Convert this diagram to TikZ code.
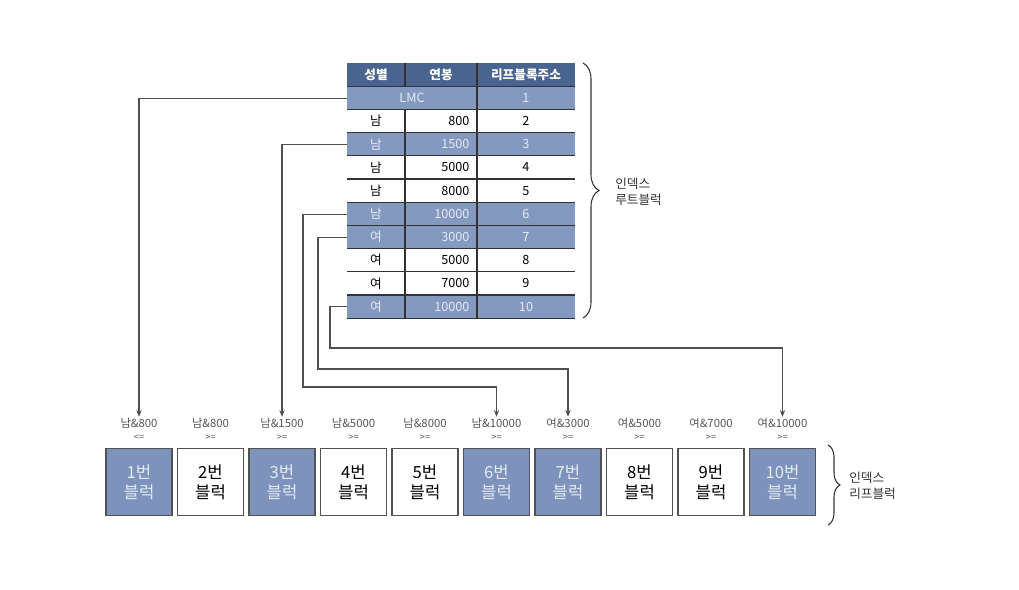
\documentclass[tikz,border=0pt]{standalone}
\usepackage{fontspec}
\setmainfont{Noto Sans CJK KR}
\usetikzlibrary{arrows.meta,decorations.pathreplacing}
\definecolor{hdr}{HTML}{4A6490}
\definecolor{hl}{HTML}{8499C0}
\definecolor{blk}{HTML}{7D93BB}
\definecolor{hltxt}{HTML}{E4EAF4}
\definecolor{ln}{HTML}{333333}
\definecolor{wire}{HTML}{505050}
\definecolor{lbl}{HTML}{555555}
\begin{document}
\begin{tikzpicture}[x=0.75pt,y=-0.75pt,
  rowbox/.style={draw=none, minimum width=171pt, minimum height=17.4pt, inner sep=0pt, anchor=north west},
  cell/.style={inner sep=1pt, font=\fontsize{9.5}{11}\selectfont},
  hcell/.style={inner sep=1pt, text=white, font=\fontsize{9.5}{11}\selectfont\bfseries},
  tline/.style={draw=ln, line width=0.8pt},
  wirestyle/.style={draw=wire, line width=0.8pt, -{Stealth[length=5pt,width=4pt]}},
  labtxt/.style={inner sep=1pt, text=lbl, font=\fontsize{8.5}{9}\selectfont},
  optxt/.style={inner sep=0pt, text=lbl, font=\fontsize{7}{8}\selectfont},
  blockbox/.style={draw=ln!85, line width=1pt, minimum width=49.5pt, minimum height=50pt, inner sep=0pt, align=center, font=\fontsize{12.5}{15}\selectfont},
  bracestyle/.style={draw=ln, line width=0.8pt, decorate},
  bracelab/.style={inner sep=0pt, anchor=west, align=left, text=ln, font=\fontsize{9.5}{12}\selectfont}
]
\useasboundingbox[fill=white] (0,0) rectangle (1019,589);

% table rows
\foreach \i/\f in {0/hdr,1/hl,2/white,3/hl,4/white,5/white,6/hl,7/hl,8/white,9/white,10/hl}{
  \node[rowbox, fill=\f] (row\i) at (347,{63+23.2*\i}) {};
}
% horizontal lines
\foreach \k in {1,...,11}{
  \draw[tline] (347,{63+23.2*\k}) -- (575,{63+23.2*\k});
}
% vertical lines
\draw[tline] (405,63) -- (405,86.2);
\draw[tline] (405,109.4) -- (405,318.2);
\draw[tline] (477,63) -- (477,318.2);

% header
\node[hcell] (h1) at (376,74.6) {성별};
\node[hcell] (h2) at (441,74.6) {연봉};
\node[hcell] (h3) at (526,74.6) {리프블록주소};
% LMC row
\node[cell, text=hltxt] (c1a) at (412,97.8) {LMC};
\node[cell, text=hltxt] (c1c) at (526,97.8) {1};
% data rows
\foreach \i/\g/\s/\a/\t in {2/남/800/2/black,3/남/1500/3/hltxt,4/남/5000/4/black,5/남/8000/5/black,6/남/10000/6/hltxt,7/여/3000/7/hltxt,8/여/5000/8/black,9/여/7000/9/black,10/여/10000/10/hltxt}{
  \node[cell, text=\t] (c\i a) at (376,{74.6+23.2*\i}) {\g};
  \node[cell, text=\t, anchor=east] (c\i b) at (471,{74.6+23.2*\i}) {\s};
  \node[cell, text=\t] (c\i c) at (526,{74.6+23.2*\i}) {\a};
}

% root brace
\draw[bracestyle, decoration={brace, amplitude=12pt}] (583,63) -- (583,318);
\node[bracelab] (rootlab) at (615,192) {인덱스\\루트블럭};

% leaf blocks
\foreach \i/\f/\t/\g/\o in {1/blk/hltxt/남\&800/<=,2/white/black/남\&800/>=,3/blk/hltxt/남\&1500/>=,4/white/black/남\&5000/>=,5/white/black/남\&8000/>=,6/blk/hltxt/남\&10000/>=,7/blk/hltxt/여\&3000/>=,8/white/black/여\&5000/>=,9/white/black/여\&7000/>=,10/blk/hltxt/여\&10000/>=}{
  \node[labtxt] (lab\i) at ({139+71.5*(\i-1)},423.5) {\g};
  \node[optxt] (op\i) at ({139+71.5*(\i-1)},438) {\o};
  \node[blockbox, fill=\f, text=\t] (blk\i) at ({139+71.5*(\i-1)},482) {{\i}번\\블럭};
}

% leaf brace
\draw[bracestyle, decoration={brace, amplitude=9pt}] (828,445) -- (828,525);
\node[bracelab] (leaflab) at (849,486) {인덱스\\리프블럭};

% connectors
\coordinate (b6) at (303,387);
\coordinate (b7) at (318,369);
\coordinate (b10) at (330,348);
\draw[wirestyle] (row1.west) -| (lab1.north);
\draw[wirestyle] (row3.west) -| (lab3.north);
\draw[wirestyle] (row6.west) -| (b6) -| (lab6.north);
\draw[wirestyle] (row7.west) -| (b7) -| (lab7.north);
\draw[wirestyle] (row10.west) -| (b10) -| (lab10.north);
\end{tikzpicture}
\end{document}
